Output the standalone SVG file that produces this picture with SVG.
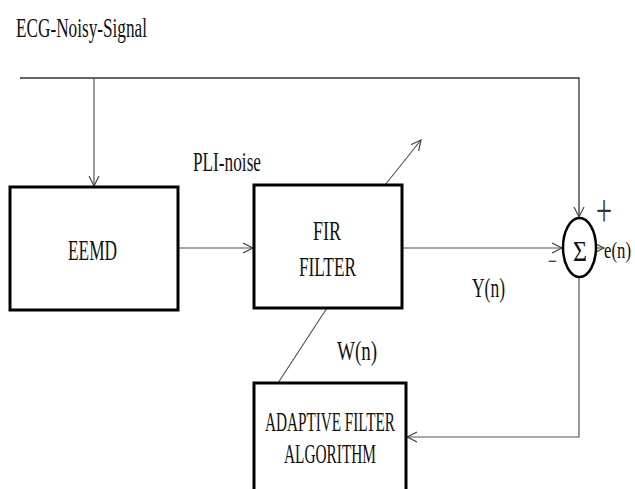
<svg xmlns="http://www.w3.org/2000/svg" width="635" height="489" viewBox="0 0 635 489">
<style>
.t{font-family:"Liberation Serif","Times New Roman",serif;font-size:27px;fill:#111;}
.box{fill:#fff;stroke:#000;stroke-width:3;}
.ln{fill:none;stroke:#333;stroke-width:1.3;}
.ln2{fill:none;stroke:#555;stroke-width:1.2;}
</style>
<defs>
<marker id="ar" markerUnits="userSpaceOnUse" markerWidth="12" markerHeight="12" refX="10" refY="5" orient="auto" viewBox="0 0 12 10">
<path d="M0,0 L10,5 L0,10" fill="none" stroke="#444" stroke-width="1.2"/>
</marker>
</defs>
<rect width="635" height="489" fill="#fff"/>
<text class="t" x="16" y="37" textLength="131" lengthAdjust="spacingAndGlyphs">ECG-Noisy-Signal</text>
<text class="t" x="193" y="171" textLength="68" lengthAdjust="spacingAndGlyphs">PLI-noise</text>
<text class="t" x="472" y="297" textLength="33" lengthAdjust="spacingAndGlyphs">Y(n)</text>
<text class="t" x="337" y="360" textLength="40" lengthAdjust="spacingAndGlyphs">W(n)</text>
<g id="connectors">
<path class="ln" d="M20,78 H579 V217" marker-end="url(#ar)"/>
<path class="ln2" d="M94,78 V186" marker-end="url(#ar)"/>
<path class="ln2" d="M178,248 H253" marker-end="url(#ar)"/>
<path class="ln2" d="M402,248 H562" marker-end="url(#ar)"/>
<path class="ln2" d="M385,185 L421,140" marker-end="url(#ar)"/>
<path class="ln2" d="M596,248 H604" marker-end="url(#ar)"/>
<path class="ln2" d="M579,277 V437 H407" marker-end="url(#ar)"/>
<path class="ln2" d="M327,308 L278,383"/>
</g>
<g id="eemd">
<rect class="box" x="10" y="187" width="168" height="123"/>
<text class="t" x="68" y="260" style="font-size:30px" textLength="49" lengthAdjust="spacingAndGlyphs">EEMD</text>
</g>
<g id="fir">
<rect class="box" x="254" y="185" width="148" height="123"/>
<text class="t" x="313" y="240" textLength="28" lengthAdjust="spacingAndGlyphs">FIR</text>
<text class="t" x="299" y="276" textLength="57" lengthAdjust="spacingAndGlyphs">FILTER</text>
</g>
<g id="adaptive">
<rect class="box" x="254" y="383" width="152" height="120"/>
<text class="t" x="265" y="431" textLength="130" lengthAdjust="spacingAndGlyphs">ADAPTIVE FILTER</text>
<text class="t" x="284" y="463" textLength="92" lengthAdjust="spacingAndGlyphs">ALGORITHM</text>
</g>
<g id="sum">
<ellipse cx="579.5" cy="247.5" rx="16.5" ry="29.5" fill="#fff" stroke="#000" stroke-width="2.5"/>
<text class="t" x="573" y="261" style="font-size:30px" textLength="14" lengthAdjust="spacingAndGlyphs">Σ</text>
<text class="t" transform="translate(596,226) scale(0.62,1)" x="0" y="0" style="font-size:46px;fill:#333">+</text>
<text class="t" x="548" y="269" style="font-size:24px;fill:#333" textLength="9" lengthAdjust="spacingAndGlyphs">−</text>
<text class="t" transform="translate(604,258) scale(0.7,1)" x="0" y="0" style="font-size:24px">e(n)</text>
</g>
</svg>
